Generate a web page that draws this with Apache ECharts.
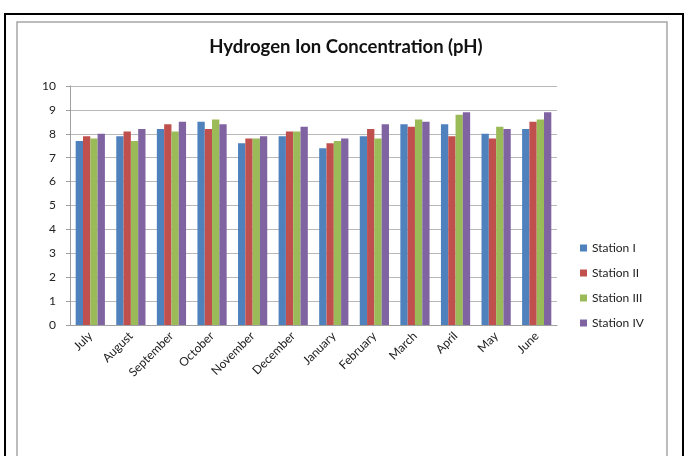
<!DOCTYPE html>
<html><head><meta charset="utf-8">
<script src="https://cdn.jsdelivr.net/npm/echarts@6/dist/echarts.min.js"></script>
<style>html,body{margin:0;padding:0;background:#fff;}#c{width:689px;height:456px;}</style>
</head><body><div id="c"></div>
<script>
const months = ['July','August','September','October','November','December','January','February','March','April','May','June'];
const stationI   = [7.7, 7.9, 8.2, 8.5, 7.6, 7.9, 7.4, 7.9, 8.4, 8.4, 8.0, 8.2];
const stationII  = [7.9, 8.1, 8.4, 8.2, 7.8, 8.1, 7.6, 8.2, 8.3, 7.9, 7.8, 8.5];
const stationIII = [7.8, 7.7, 8.1, 8.6, 7.8, 8.1, 7.7, 7.8, 8.6, 8.8, 8.3, 8.6];
const stationIV  = [8.0, 8.2, 8.5, 8.4, 7.9, 8.3, 7.8, 8.4, 8.5, 8.9, 8.2, 8.9];
const seriesNames = ['Station I','Station II','Station III','Station IV'];
const colors = ['#4F81BD','#C0504D','#9BBB59','#8064A2'];
const font = 'Lato, "Open Sans", sans-serif';

const chart = echarts.init(document.getElementById('c'), null, {renderer:'canvas'});
const data = [stationI, stationII, stationIII, stationIV];
chart.setOption({
  animation:false,
  backgroundColor:'#fff',
  graphic:[
    {type:'rect', shape:{x:5,y:14,width:678,height:460}, style:{fill:'none', stroke:'#000', lineWidth:2}, z:-1},
    {type:'rect', shape:{x:17,y:22,width:650,height:460}, style:{fill:'none', stroke:'#a6a6a6', lineWidth:1.5}, z:-1}
  ],
  title:{text:'Hydrogen Ion Concentration (pH)', left:341, textAlign:'center', top:33,
    textStyle:{fontFamily:font, fontWeight:'bold', fontSize:18.5, color:'#111'}},
  legend:{orient:'vertical', left:575, top:237, itemWidth:7, itemHeight:7, itemGap:13, icon:'rect',
    textStyle:{fontFamily:font, fontSize:12, color:'#222'}, data:seriesNames},
  grid:{left:70, right:132, top:86, bottom:131},
  xAxis:{type:'category', data:months,
    axisLine:{lineStyle:{color:'#a0a0a0'}}, axisTick:{show:false},
    axisLabel:{rotate:45, fontFamily:font, fontSize:12, color:'#222', margin:9}},
  yAxis:{type:'value', min:0, max:10, interval:1,
    axisLine:{show:true, lineStyle:{color:'#a0a0a0'}}, axisTick:{show:true, length:4, lineStyle:{color:'#a0a0a0'}},
    splitLine:{lineStyle:{color:'#b8b8b8'}},
    axisLabel:{fontFamily:font, fontSize:12, color:'#222', margin:14}},
  series: data.map((d,i)=>({name:seriesNames[i], type:'bar', data:d, barGap:'0%', barCategoryGap:'28%',
    itemStyle:{color:colors[i]}}))
});
</script></body></html>
